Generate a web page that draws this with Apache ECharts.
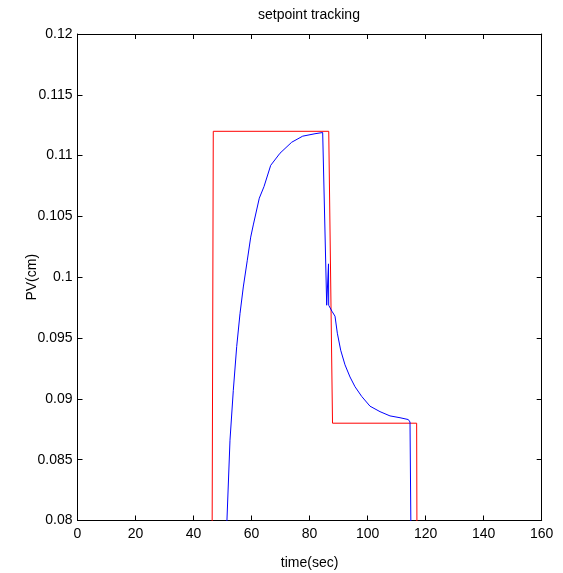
<!DOCTYPE html>
<html>
<head>
<meta charset="utf-8">
<script src="https://cdn.jsdelivr.net/npm/echarts@6/dist/echarts.min.js"></script>
<style>
  html, body { margin: 0; padding: 0; background: #fff; }
  #chart { width: 563px; height: 573px; }
</style>
</head>
<body>
<div id="chart"></div>
<script>
// Setpoint (red) – steps up, down, then back off
const spTime  = [0, 46.3, 46.8, 86.6, 87.9, 116.9, 117.1, 160];
const spValue = [0.07, 0.07, 0.112, 0.112, 0.088, 0.088, 0.07, 0.07];

// Process variable (blue)
const pvTime = [0, 50.9, 51.0, 52.56, 53.70, 54.87, 56.01, 57.15, 58.53, 59.70, 60.59,
  62.66, 64.28, 66.59, 69.80, 73.83, 77.62, 81.86, 84.51,
  85.89, 86.51, 86.58, 87.72, 88.76, 89.56, 90.72, 92.20, 93.93, 95.65, 97.96,
  100.82, 104.27, 107.71, 111.16, 114.02, 114.61, 114.9, 115.0, 160];
const pvValue = [0.07, 0.07, 0.0768, 0.0866, 0.0907, 0.0943, 0.0970, 0.0992, 0.1014, 0.1033, 0.1043,
  0.1065, 0.10745, 0.1092, 0.1102, 0.1111, 0.1116, 0.1118, 0.1119,
  0.0977, 0.1011, 0.0977, 0.0972, 0.0968, 0.0954, 0.0940, 0.0928, 0.0918, 0.0910, 0.0902,
  0.0894, 0.08895, 0.0886, 0.08845, 0.0883, 0.0881, 0.0880, 0.0770, 0.07];

const xTicks = { min: 0, max: 160, interval: 20 };
const yTicks = { min: 0.08, max: 0.12, interval: 0.005 };

const FONT = 'Liberation Sans';

const pairs = (xs, ys) => xs.map((x, i) => [x, ys[i]]);

const baseAxis = {
  type: 'value',
  splitLine: { show: false },
  axisLine: { show: true, onZero: false, lineStyle: { color: '#000', width: 1 } },
  axisTick: { show: true, inside: true, length: 5, lineStyle: { color: '#000' } },
  axisLabel: { color: '#000', fontFamily: FONT, fontSize: 14 }
};

const chart = echarts.init(document.getElementById('chart'), null, { renderer: 'canvas' });
chart.setOption({
  animation: false,
  backgroundColor: '#fff',
  title: {
    text: 'setpoint tracking',
    left: 253,
    top: 3,
    textStyle: { fontFamily: FONT, fontSize: 14, fontWeight: 'normal', color: '#000' }
  },
  grid: {
    left: 77.5, right: 21.3, top: 34, bottom: 52.5,
    containLabel: false,
    outerBoundsMode: 'none'
  },
  xAxis: [
    Object.assign({}, baseAxis, xTicks, {
      position: 'bottom',
      name: 'time(sec)',
      nameLocation: 'middle',
      nameGap: 36,
      nameMoveOverlap: false,
      nameTextStyle: { color: '#000', fontFamily: FONT, fontSize: 14 },
      axisLabel: Object.assign({}, baseAxis.axisLabel, { margin: 7 })
    }),
    Object.assign({}, baseAxis, xTicks, {
      position: 'top',
      axisLabel: { show: false }
    })
  ],
  yAxis: [
    Object.assign({}, baseAxis, yTicks, {
      position: 'left',
      name: 'PV(cm)',
      nameLocation: 'middle',
      nameGap: 38,
      nameMoveOverlap: false,
      nameTextStyle: { color: '#000', fontFamily: FONT, fontSize: 14 },
      axisLabel: Object.assign({}, baseAxis.axisLabel, {
        margin: 5,
        formatter: v => String(parseFloat(v.toFixed(3)))
      })
    }),
    Object.assign({}, baseAxis, yTicks, {
      position: 'right',
      axisLabel: { show: false }
    })
  ],
  series: [
    {
      name: 'setpoint',
      type: 'line',
      data: pairs(spTime, spValue),
      showSymbol: false,
      symbol: 'none',
      clip: true,
      lineStyle: { color: '#ff0000', width: 1 }
    },
    {
      name: 'PV',
      type: 'line',
      data: pairs(pvTime, pvValue),
      showSymbol: false,
      symbol: 'none',
      clip: true,
      lineStyle: { color: '#0000ff', width: 1 }
    }
  ]
});
</script>
</body>
</html>
